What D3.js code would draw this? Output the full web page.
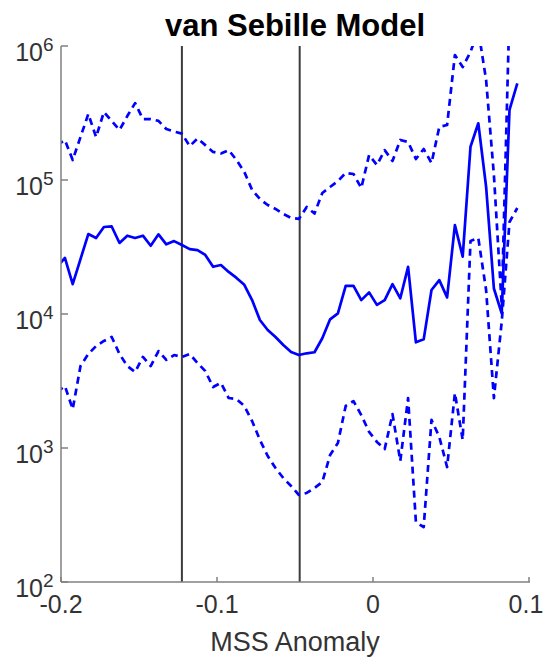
<!DOCTYPE html>
<html>
<head>
<meta charset="utf-8">
<script src="https://cdn.jsdelivr.net/npm/d3@7"></script>
<style>
  body { margin: 0; background: #fff; }
  svg text { font-family: "Liberation Sans", Arial, sans-serif; }
</style>
</head>
<body>
<div id="chart"></div>
<script>
// MSS anomaly bin centres (the first one sits just left of the axis and is clipped)
const mss = [-0.2025, -0.1975, -0.1925, -0.1875, -0.1825, -0.1775, -0.1725, -0.1675, -0.1625, -0.1575,
  -0.1525, -0.1475, -0.1425, -0.1375, -0.1325, -0.1275, -0.1225, -0.1175, -0.1125, -0.1075,
  -0.1025, -0.0975, -0.0925, -0.0875, -0.0825, -0.0775, -0.0725, -0.0675, -0.0625, -0.0575,
  -0.0525, -0.0475, -0.0425, -0.0375, -0.0325, -0.0275, -0.0225, -0.0175, -0.0125, -0.0075,
  -0.0025, 0.0025, 0.0075, 0.0125, 0.0175, 0.0225, 0.0275, 0.0325, 0.0375, 0.0425,
  0.0475, 0.0525, 0.0575, 0.0625, 0.0675, 0.0725, 0.0775, 0.0825, 0.0875, 0.0925]

const median = [22400, 26200, 16700, 25700, 39500, 36900, 44600, 45000, 33900, 38400,
  36900, 38400, 32300, 39300, 33100, 35000, 32700, 30500, 30000, 27600,
  22500, 23200, 20600, 18600, 16500, 12700, 9020, 7600, 6730, 5870,
  5200, 4940, 5090, 5180, 6590, 9130, 10100, 16200, 16200, 12700,
  14500, 11700, 12700, 16700, 13100, 22500, 6150, 6470, 15100, 17900,
  13300, 46100, 26800, 177000, 265000, 89100, 15500, 10100, 333000, 527000]

const upper = [182000, 199000, 141000, 209000, 311000, 209000, 322000, 276000, 236000, 300000,
  375000, 285000, 285000, 276000, 240000, 230000, 222000, 179000, 204000, 182000,
  162000, 158000, 167000, 141000, 115000, 84200, 72100, 65100, 60800, 55800,
  52100, 51200, 62900, 56200, 80000, 88700, 98300, 112800, 110900, 87100,
  153700, 129400, 167000, 138600, 199000, 192100, 143400, 170300, 133900, 248600,
  257300, 856000, 697000, 902000, 1316000, 558000, 109000, 11700, 1890000, 1560000]

const lower = [2620, 2900, 1950, 4090, 5030, 5770, 6290, 6740, 5030, 4090,
  3690, 4780, 4090, 5290, 4540, 4940, 4780, 5030, 4310, 3750,
  2850, 3060, 2360, 2320, 2060, 1590, 1150, 872, 709, 597,
  520, 446, 462, 503, 558, 887, 1090, 2060, 2240, 1760,
  1320, 1110, 983, 1790, 800, 2360, 280, 257, 1620, 1210,
  721, 2570, 1150, 35100, 36900, 15100, 2360, 8720, 48600, 61800]

const markers = [-0.1225, -0.047]
const xTicks = [-0.2, -0.1, 0, 0.1]
const yTicks = [1e2, 1e3, 1e4, 1e5, 1e6]

const width = 544, height = 659
const m = { left: 61, right: 529, top: 46, bottom: 582 }

const svg = d3.select('#chart').append('svg')
  .attr('width', width)
  .attr('height', height)

const x = d3.scaleLinear().domain([-0.2, 0.1]).range([m.left, m.right])
const y = d3.scaleLog().domain([1e2, 1e6]).range([m.bottom, m.top])

svg.append('clipPath').attr('id', 'plot')
  .append('rect')
  .attr('x', m.left).attr('y', m.top)
  .attr('width', m.right - m.left).attr('height', m.bottom - m.top)

// threshold lines
svg.append('g').selectAll('line')
  .data(markers)
  .enter().append('line')
  .attr('x1', d => x(d)).attr('x2', d => x(d))
  .attr('y1', m.top).attr('y2', m.bottom)
  .attr('stroke', '#3c3c3c')
  .attr('stroke-width', 2)

const line = ys => d3.line()
  .x((d, i) => x(mss[i]))
  .y(d => y(d))(ys)

const series = [
  { values: upper, dash: '7,5' },
  { values: lower, dash: '7,5' },
  { values: median, dash: null }
]

let g = svg.append('g').attr('clip-path', 'url(#plot)')
g.selectAll('path')
  .data(series)
  .enter().append('path')
  .attr('d', d => line(d.values))
  .attr('fill', 'none')
  .attr('stroke', '#0000ff')
  .attr('stroke-width', 2.7)
  .attr('stroke-linejoin', 'round')
  .attr('stroke-dasharray', d => d.dash)

// axes (box off, ticks pointing in)
const axisColor = '#808080'
svg.append('line')
  .attr('x1', m.left).attr('x2', m.left).attr('y1', m.top).attr('y2', m.bottom)
  .attr('stroke', axisColor).attr('stroke-width', 1.5)
svg.append('line')
  .attr('x1', m.left).attr('x2', m.right + 1).attr('y1', m.bottom).attr('y2', m.bottom)
  .attr('stroke', axisColor).attr('stroke-width', 1.5)

svg.append('g').selectAll('line')
  .data(yTicks)
  .enter().append('line')
  .attr('x1', m.left).attr('x2', m.left + 7)
  .attr('y1', d => y(d)).attr('y2', d => y(d))
  .attr('stroke', axisColor).attr('stroke-width', 1.5)

svg.append('g').selectAll('line')
  .data(xTicks)
  .enter().append('line')
  .attr('x1', d => x(d)).attr('x2', d => x(d))
  .attr('y1', m.bottom).attr('y2', m.bottom - 5)
  .attr('stroke', axisColor).attr('stroke-width', 1.5)

const labelColor = '#333'
svg.append('g').selectAll('text')
  .data(xTicks)
  .enter().append('text')
  .attr('x', d => Math.min(x(d), width - 18))
  .attr('y', 613)
  .attr('text-anchor', 'middle')
  .attr('font-size', 25)
  .attr('fill', labelColor)
  .text(d => String(d))

let yl = svg.append('g').selectAll('g')
  .data(yTicks)
  .enter().append('g')
yl.append('text')
  .attr('x', 43)
  .attr('y', d => y(d) + 15)
  .attr('text-anchor', 'end')
  .attr('font-size', 25)
  .attr('fill', labelColor)
  .text('10')
yl.append('text')
  .attr('x', 43)
  .attr('y', d => y(d) + 4.5)
  .attr('font-size', 19)
  .attr('fill', labelColor)
  .text(d => Math.round(Math.log10(d)))

svg.append('text')
  .attr('x', (m.left + m.right) / 2)
  .attr('y', 651)
  .attr('text-anchor', 'middle')
  .attr('font-size', 27)
  .attr('fill', labelColor)
  .text('MSS Anomaly')

svg.append('text')
  .attr('x', (m.left + m.right) / 2)
  .attr('y', 36)
  .attr('text-anchor', 'middle')
  .attr('font-size', 31)
  .attr('font-weight', 'bold')
  .attr('fill', '#000')
  .text('van Sebille Model')
</script>
</body>
</html>
